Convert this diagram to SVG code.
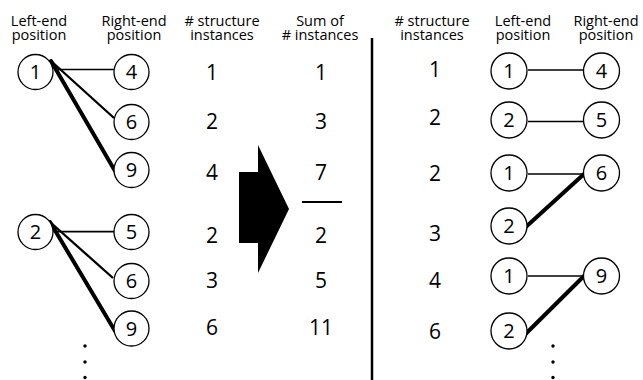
<svg xmlns="http://www.w3.org/2000/svg" width="643" height="380" viewBox="0 0 643 380">
  <defs>
    <style>
      .hdr { font-family: "Open Sans", "Noto Sans", sans-serif; font-size: 14.5px; fill: #000; text-anchor: middle; }
      .num { font-family: "Open Sans", "Noto Sans", sans-serif; font-size: 21px; fill: #000; text-anchor: middle; }
      .node circle { fill: #fff; stroke: #000; stroke-width: 1.3; }
      .node text { font-family: "Open Sans", "Noto Sans", sans-serif; font-size: 20px; fill: #000; text-anchor: middle; }
      .thin { stroke: #000; stroke-width: 1.7; fill: none; }
      .mid { stroke: #000; stroke-width: 2.3; fill: none; }
      .thick { stroke: #000; stroke-width: 4; fill: none; stroke-linecap: round; }
      .dot { fill: #000; }
    </style>
  </defs>
  <rect width="643" height="380" fill="#fff"/>

  <!-- column headers -->
  <g id="headers">
    <text class="hdr" x="39" y="25.5">Left-end</text>
    <text class="hdr" x="39" y="40">position</text>
    <text class="hdr" x="134" y="25.5">Right-end</text>
    <text class="hdr" x="134" y="40">position</text>
    <text class="hdr" x="222" y="25.5"># structure</text>
    <text class="hdr" x="222" y="40">instances</text>
    <text class="hdr" x="320" y="25.5">Sum of</text>
    <text class="hdr" x="320" y="40"># instances</text>
    <text class="hdr" x="432" y="25.5"># structure</text>
    <text class="hdr" x="432" y="40">instances</text>
    <text class="hdr" x="523" y="25.5">Left-end</text>
    <text class="hdr" x="523" y="40">position</text>
    <text class="hdr" x="606" y="25.5">Right-end</text>
    <text class="hdr" x="606" y="40">position</text>
  </g>

  <!-- connectors -->
  <g id="connectors">
    <line class="thin" x1="54" y1="69.5" x2="114" y2="69.5"/>
    <line class="mid" x1="51" y1="61" x2="114" y2="118"/>
    <line class="thick" x1="51" y1="61" x2="115" y2="171"/>
    <line class="thin" x1="54" y1="231.7" x2="114" y2="231.7"/>
    <line class="mid" x1="50" y1="222" x2="113" y2="278"/>
    <line class="thick" x1="50" y1="222" x2="115" y2="331"/>

    <line class="thin" x1="528" y1="70" x2="584" y2="70"/>
    <line class="thin" x1="528" y1="121.5" x2="584" y2="121.5"/>
    <line class="thin" x1="528" y1="174" x2="584" y2="174"/>
    <line class="thin" x1="528" y1="276" x2="584" y2="276"/>
    <line class="thick" x1="522.5" y1="230" x2="584" y2="174"/>
    <line class="thick" x1="522.5" y1="337" x2="584" y2="276"/>
  </g>

  <!-- left panel nodes -->
  <g id="L1" class="node"><circle cx="35.5" cy="72" r="17.5"/><text x="35.5" y="79">1</text></g>
  <g id="L4" class="node"><circle cx="131.5" cy="72" r="17.5"/><text x="131.5" y="79">4</text></g>
  <g id="L6a" class="node"><circle cx="131.5" cy="122" r="17.5"/><text x="131.5" y="129">6</text></g>
  <g id="L9a" class="node"><circle cx="131.5" cy="170" r="17.5"/><text x="131.5" y="177">9</text></g>
  <g id="L2" class="node"><circle cx="35.5" cy="232" r="17.5"/><text x="35.5" y="239">2</text></g>
  <g id="L5" class="node"><circle cx="131.5" cy="232" r="17.5"/><text x="131.5" y="239">5</text></g>
  <g id="L6b" class="node"><circle cx="131.5" cy="281" r="17.5"/><text x="131.5" y="288">6</text></g>
  <g id="L9b" class="node"><circle cx="131.5" cy="328.5" r="17.5"/><text x="131.5" y="335.5">9</text></g>

  <g id="left-dots">
    <circle class="dot" cx="85" cy="346" r="1.7"/>
    <circle class="dot" cx="85" cy="362" r="1.7"/>
    <circle class="dot" cx="85" cy="377.5" r="1.7"/>
  </g>

  <!-- instance counts and running sums -->
  <g id="counts">
    <text class="num" x="212" y="80">1</text>
    <text class="num" x="212" y="129">2</text>
    <text class="num" x="212" y="180">4</text>
    <text class="num" x="212" y="243">2</text>
    <text class="num" x="212" y="288">3</text>
    <text class="num" x="212" y="335">6</text>
  </g>
  <g id="sums">
    <text class="num" x="321" y="80">1</text>
    <text class="num" x="321" y="129">3</text>
    <text class="num" x="321" y="180">7</text>
    <line x1="302" y1="202" x2="342" y2="202" stroke="#000" stroke-width="2"/>
    <text class="num" x="321" y="243">2</text>
    <text class="num" x="321" y="288">5</text>
    <text class="num" x="321" y="335">11</text>
  </g>

  <!-- block arrow -->
  <g id="arrow">
    <polygon points="239,172 258,172 258,145 289,209 258,273 258,243 239,243" fill="#000"/>
  </g>

  <!-- divider -->
  <line id="divider" x1="372" y1="38" x2="372" y2="380" stroke="#000" stroke-width="2.5"/>

  <!-- right panel counts -->
  <g id="counts-right">
    <text class="num" x="435" y="77">1</text>
    <text class="num" x="435" y="125">2</text>
    <text class="num" x="435" y="181">2</text>
    <text class="num" x="435" y="241">3</text>
    <text class="num" x="435" y="288">4</text>
    <text class="num" x="435" y="339">6</text>
  </g>

  <!-- right panel nodes -->
  <g id="R1a" class="node"><circle cx="509" cy="71" r="18"/><text x="509" y="78">1</text></g>
  <g id="R4" class="node"><circle cx="601.5" cy="71" r="18"/><text x="601.5" y="78">4</text></g>
  <g id="R2a" class="node"><circle cx="509" cy="120" r="18"/><text x="509" y="127">2</text></g>
  <g id="R5" class="node"><circle cx="601.5" cy="120" r="18"/><text x="601.5" y="127">5</text></g>
  <g id="R1b" class="node"><circle cx="509" cy="173" r="18"/><text x="509" y="180">1</text></g>
  <g id="R6" class="node"><circle cx="601.5" cy="173" r="18"/><text x="601.5" y="180">6</text></g>
  <g id="R2b" class="node"><circle cx="509" cy="226" r="18"/><text x="509" y="233">2</text></g>
  <g id="R1c" class="node"><circle cx="509" cy="276" r="18"/><text x="509" y="283">1</text></g>
  <g id="R9" class="node"><circle cx="601.5" cy="276" r="18"/><text x="601.5" y="283">9</text></g>
  <g id="R2c" class="node"><circle cx="509" cy="331" r="18"/><text x="509" y="338">2</text></g>

  <g id="right-dots">
    <circle class="dot" cx="553" cy="346" r="1.7"/>
    <circle class="dot" cx="553" cy="362" r="1.7"/>
    <circle class="dot" cx="553" cy="377.5" r="1.7"/>
  </g>
</svg>
